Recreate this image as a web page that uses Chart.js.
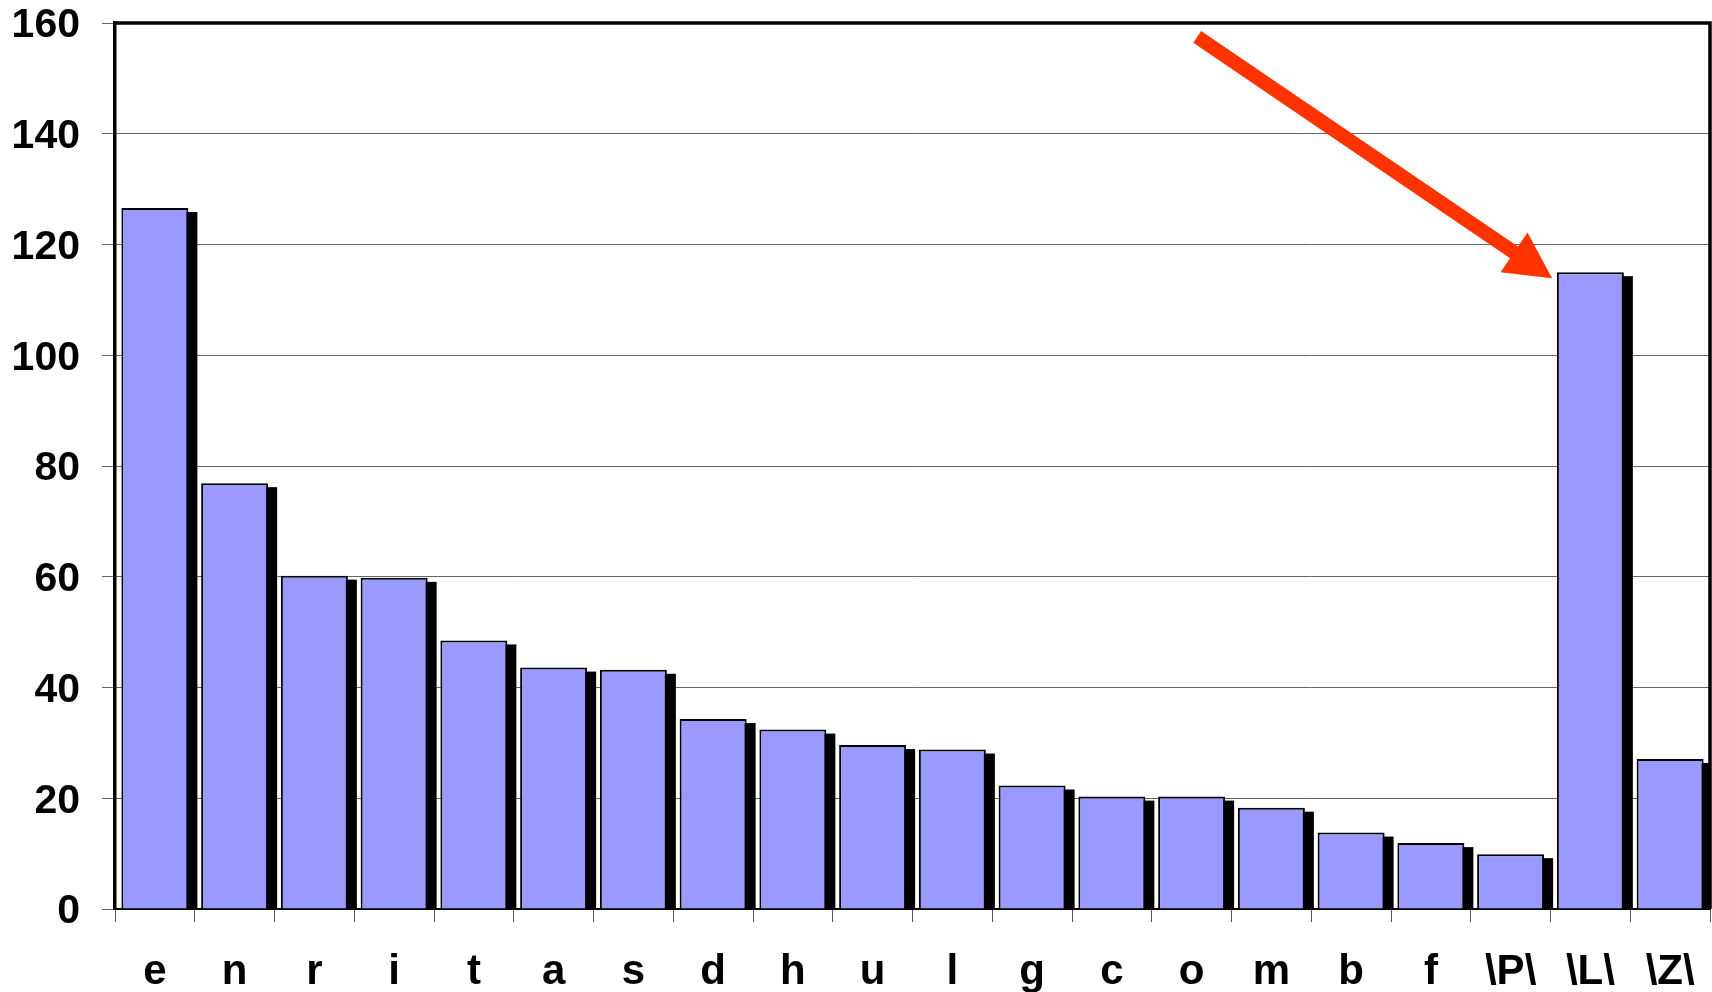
<!DOCTYPE html>
<html>
<head>
<meta charset="utf-8">
<title>Letter frequencies</title>
<script src="https://cdn.jsdelivr.net/npm/chart.js@4/dist/chart.umd.min.js"></script>
<style>
  html, body { margin: 0; padding: 0; background: #fff; }
  #wrap { width: 1712px; height: 992px; }
</style>
</head>
<body>
<div id="wrap"><canvas id="c" width="1712" height="992"></canvas></div>
<script>
// Categories and their counts
const letters = ['e', 'n', 'r', 'i', 't', 'a', 's', 'd', 'h', 'u', 'l', 'g', 'c', 'o', 'm', 'b', 'f', '\\P\\', '\\L\\', '\\Z\\'];
const counts = [126.6, 76.9, 60.2, 59.8, 48.5, 43.6, 43.2, 34.3, 32.4, 29.6, 28.8, 22.3, 20.3, 20.3, 18.3, 13.8, 11.9, 9.9, 115.0, 27.1];
const yTicks = [0, 20, 40, 60, 80, 100, 120, 140, 160];

// Arrow pointing at the highlighted bar, in data units (category index, value)
const arrowTail = { x: 13.07, y: 157.5 };
const arrowTip = { x: 17.52, y: 113.9 };

const FONT = "'Liberation Sans', Arial, sans-serif";

// Black drop shadow behind each bar, offset down and to the right
const barShadow = {
  id: 'barShadow',
  beforeDatasetsDraw(chart) {
    const { ctx, chartArea } = chart;
    const meta = chart.getDatasetMeta(0);
    ctx.save();
    ctx.beginPath();
    ctx.rect(chartArea.left, chartArea.top, chartArea.right - chartArea.left, chartArea.bottom - chartArea.top);
    ctx.clip();
    ctx.fillStyle = '#000';
    meta.data.forEach(bar => {
      const p = bar.getProps(['x', 'y', 'base', 'width'], true);
      const left = p.x - p.width / 2 + 9;
      const top = p.y + 4;
      ctx.fillRect(left, top, p.width, p.base - top);
    });
    ctx.restore();
  }
};

// Top and right frame lines plus the red arrow
const frameAndArrow = {
  id: 'frameAndArrow',
  afterDraw(chart) {
    const { ctx, chartArea, scales } = chart;
    ctx.save();
    ctx.strokeStyle = '#000';
    ctx.lineWidth = 3.5;
    ctx.beginPath();
    ctx.moveTo(chartArea.left, chartArea.top);
    ctx.lineTo(chartArea.right, chartArea.top);
    ctx.lineTo(chartArea.right, chartArea.bottom);
    ctx.stroke();

    const x0 = scales.x.getPixelForValue(arrowTail.x);
    const y0 = scales.y.getPixelForValue(arrowTail.y);
    const x1 = scales.x.getPixelForValue(arrowTip.x);
    const y1 = scales.y.getPixelForValue(arrowTip.y);
    const ang = Math.atan2(y1 - y0, x1 - x0);
    const len = Math.hypot(x1 - x0, y1 - y0);
    const shaft = 7, headLen = 46, headHalf = 24;
    ctx.translate(x0, y0);
    ctx.rotate(ang);
    ctx.fillStyle = '#ff3300';
    ctx.beginPath();
    ctx.moveTo(0, -shaft);
    ctx.lineTo(len - headLen, -shaft);
    ctx.lineTo(len - headLen, -headHalf);
    ctx.lineTo(len, 0);
    ctx.lineTo(len - headLen, headHalf);
    ctx.lineTo(len - headLen, shaft);
    ctx.lineTo(0, shaft);
    ctx.closePath();
    ctx.fill();
    ctx.restore();
  }
};

new Chart(document.getElementById('c'), {
  type: 'bar',
  data: {
    labels: letters,
    datasets: [{
      data: counts,
      backgroundColor: '#9999ff',
      borderColor: '#000',
      borderWidth: 2,
      barPercentage: 0.84,
      categoryPercentage: 1.0
    }]
  },
  options: {
    responsive: false,
    animation: false,
    events: [],
    layout: { padding: { top: 23, right: 2, left: 0, bottom: 0 } },
    plugins: { legend: { display: false }, tooltip: { enabled: false } },
    scales: {
      x: {
        afterFit(scale) {
          scale.height = 83;
          scale.paddingLeft = 0;
          scale.paddingRight = 0;
        },
        grid: {
          display: true,
          offset: true,
          drawOnChartArea: false,
          drawTicks: true,
          tickLength: 13,
          color: '#555',
          lineWidth: 1
        },
        border: { display: true, color: '#000', width: 2 },
        ticks: {
          color: '#000',
          font: { family: FONT, size: 42, weight: 'bold' },
          padding: 25,
          maxRotation: 0,
          autoSkip: false
        }
      },
      y: {
        min: 0,
        max: 160,
        afterFit(scale) {
          scale.width = 115;
          scale.paddingTop = 0;
          scale.paddingBottom = 0;
        },
        afterBuildTicks(scale) { scale.ticks = yTicks.map(v => ({ value: v })); },
        grid: {
          color: '#666',
          lineWidth: 1,
          drawTicks: true,
          tickLength: 13
        },
        border: { display: true, color: '#000', width: 3.5 },
        ticks: {
          color: '#000',
          font: { family: FONT, size: 41, weight: 'bold' },
          padding: 22,
          labelOffset: 3
        }
      }
    }
  },
  plugins: [barShadow, frameAndArrow]
});
</script>
</body>
</html>
